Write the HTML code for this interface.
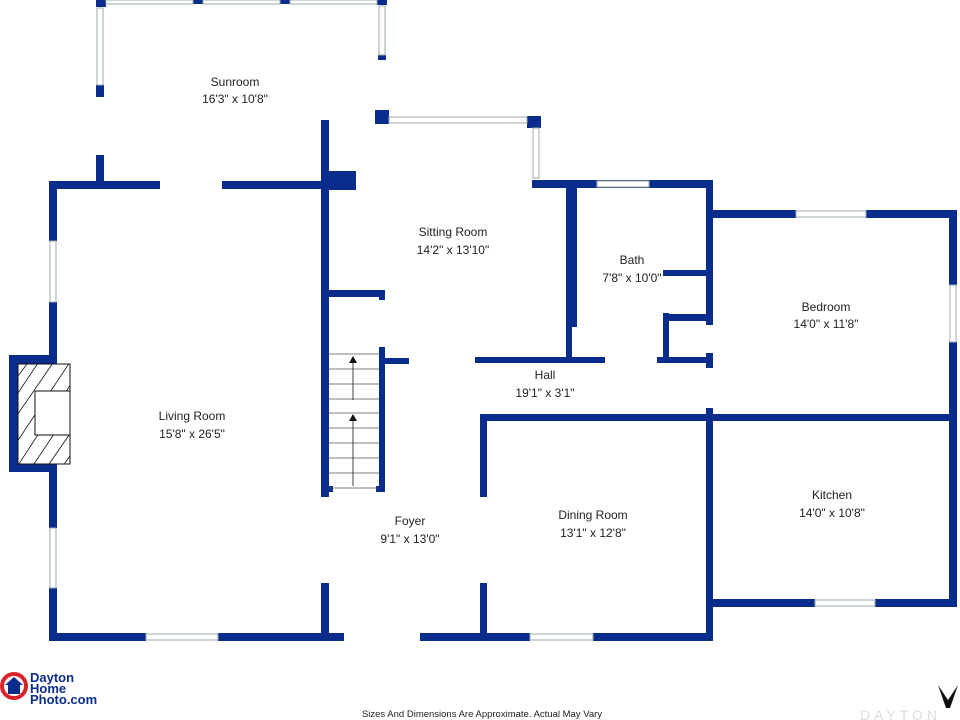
<!DOCTYPE html>
<html><head><meta charset="utf-8"><style>
html,body{margin:0;padding:0;background:#fff;}
svg{display:block;}
text{font-family:"Liberation Sans",sans-serif;fill:#222;}
</style></head><body>
<svg width="960" height="720" viewBox="0 0 960 720" xmlns="http://www.w3.org/2000/svg">
<g fill="#0a2c8c">
<rect x="96" y="0" width="10" height="7"/>
<rect x="96" y="85" width="8" height="12"/>
<rect x="96" y="155" width="8" height="30"/>
<rect x="193" y="0" width="10" height="4"/>
<rect x="280" y="0" width="10" height="4"/>
<rect x="377" y="0" width="10" height="5"/>
<rect x="378" y="55" width="8" height="5"/>
<rect x="375" y="110" width="14" height="14"/>
<rect x="49" y="181" width="111" height="8"/>
<rect x="222" y="181" width="100" height="8"/>
<rect x="322" y="171" width="34" height="19"/>
<rect x="49" y="181" width="8" height="60"/>
<rect x="49" y="302" width="8" height="53"/>
<rect x="9" y="355" width="48" height="9"/>
<rect x="9" y="355" width="9" height="117"/>
<rect x="9" y="463" width="48" height="9"/>
<rect x="49" y="463" width="8" height="65"/>
<rect x="49" y="588" width="8" height="53"/>
<rect x="49" y="633" width="97" height="8"/>
<rect x="218" y="633" width="126" height="8"/>
<rect x="321" y="120" width="8" height="377"/>
<rect x="321" y="583" width="8" height="58"/>
<rect x="527" y="116" width="14" height="12"/>
<rect x="532" y="180" width="181" height="8"/>
<rect x="566" y="188" width="11" height="139"/>
<rect x="566" y="188" width="6" height="172"/>
<rect x="329" y="290" width="56" height="7"/>
<rect x="379" y="290" width="6" height="10"/>
<rect x="379" y="347" width="6" height="145"/>
<rect x="329" y="486" width="4" height="6"/>
<rect x="376" y="486" width="9" height="6"/>
<rect x="379" y="358" width="30" height="6"/>
<rect x="475" y="357" width="130" height="6"/>
<rect x="657" y="357" width="56" height="6"/>
<rect x="706" y="180" width="7" height="145"/>
<rect x="706" y="353" width="7" height="15"/>
<rect x="663" y="270" width="43" height="6"/>
<rect x="663" y="314" width="43" height="7"/>
<rect x="663" y="313" width="6" height="50"/>
<rect x="706" y="210" width="90" height="8"/>
<rect x="866" y="210" width="91" height="8"/>
<rect x="949" y="210" width="8" height="75"/>
<rect x="949" y="342" width="8" height="265"/>
<rect x="480" y="414" width="477" height="7"/>
<rect x="706" y="408" width="7" height="233"/>
<rect x="480" y="414" width="7" height="83"/>
<rect x="480" y="583" width="7" height="58"/>
<rect x="420" y="633" width="110" height="8"/>
<rect x="593" y="633" width="120" height="8"/>
<rect x="713" y="599" width="102" height="8"/>
<rect x="875" y="599" width="82" height="8"/>
</g>
<g fill="#fff" stroke="#9aa" stroke-width="1">
<rect x="97" y="8" width="6" height="77"/>
<rect x="106" y="0" width="87" height="4"/>
<rect x="203" y="0" width="77" height="4"/>
<rect x="290" y="0" width="87" height="4"/>
<rect x="379" y="6" width="6" height="49"/>
<rect x="389" y="117" width="138" height="6"/>
<rect x="533" y="128" width="6" height="50"/>
<rect x="50" y="241" width="6" height="61"/>
<rect x="50" y="528" width="6" height="60"/>
<rect x="146" y="634" width="72" height="6"/>
<rect x="597" y="181" width="52" height="6"/>
<rect x="796" y="211" width="70" height="6"/>
<rect x="950" y="285" width="6" height="57"/>
<rect x="530" y="634" width="63" height="6"/>
<rect x="815" y="600" width="60" height="6"/>
</g>
<defs><clipPath id="fp"><rect x="18" y="364" width="52" height="100"/></clipPath></defs>
<rect x="18" y="364" width="52" height="100" fill="#fff" stroke="#111" stroke-width="1"/>
<g clip-path="url(#fp)" stroke="#111" stroke-width="0.8">
<line x1="0" y1="420" x2="40" y2="360"/><line x1="0" y1="440" x2="55" y2="360"/>
<line x1="5" y1="460" x2="70" y2="362"/><line x1="15" y1="470" x2="80" y2="370"/>
<line x1="30" y1="470" x2="90" y2="380"/><line x1="45" y1="470" x2="100" y2="390"/>
<line x1="60" y1="470" x2="110" y2="400"/><line x1="0" y1="400" x2="30" y2="360"/>
</g>
<rect x="35" y="391" width="35" height="44" fill="#fff" stroke="#111" stroke-width="1"/>
<g stroke="#555" stroke-width="0.8">
<line x1="329" y1="354" x2="379" y2="354"/><line x1="329" y1="369" x2="379" y2="369"/>
<line x1="329" y1="384" x2="379" y2="384"/><line x1="329" y1="399" x2="379" y2="399"/>
<line x1="329" y1="413" x2="379" y2="413"/><line x1="329" y1="428" x2="379" y2="428"/>
<line x1="329" y1="443" x2="379" y2="443"/><line x1="329" y1="458" x2="379" y2="458"/>
<line x1="329" y1="473" x2="379" y2="473"/><line x1="329" y1="488" x2="379" y2="488"/>
<line x1="353" y1="360" x2="353" y2="400" stroke="#111"/><line x1="353" y1="418" x2="353" y2="486" stroke="#111"/>
</g>
<polygon points="353,356 349,363 357,363" fill="#111"/>
<polygon points="353,414 349,421 357,421" fill="#111"/>
<g font-size="12" text-anchor="middle">
<text x="235" y="86">Sunroom</text><text x="235" y="103">16'3" x 10'8"</text>
<text x="453" y="236">Sitting Room</text><text x="453" y="254">14'2" x 13'10"</text>
<text x="632" y="264">Bath</text><text x="632" y="282">7'8" x 10'0"</text>
<text x="826" y="311">Bedroom</text><text x="826" y="328">14'0" x 11'8"</text>
<text x="545" y="379">Hall</text><text x="545" y="397">19'1" x 3'1"</text>
<text x="192" y="420">Living Room</text><text x="192" y="438">15'8" x 26'5"</text>
<text x="410" y="525">Foyer</text><text x="410" y="543">9'1" x 13'0"</text>
<text x="593" y="519">Dining Room</text><text x="593" y="537">13'1" x 12'8"</text>
<text x="832" y="499">Kitchen</text><text x="832" y="517">14'0" x 10'8"</text>
</g>
<text x="482" y="717" font-size="9.5" text-anchor="middle">Sizes And Dimensions Are Approximate. Actual May Vary</text>
<circle cx="14" cy="686" r="12" fill="none" stroke="#d8232a" stroke-width="4"/>
<polygon points="14,677 5,685 8,685 8,694 20,694 20,685 23,685" fill="#0a2c8c"/>
<g font-size="13" font-weight="bold">
<text x="30" y="682" style="fill:#0a2c8c">Dayton</text>
<text x="30" y="693" style="fill:#0a2c8c">Home</text>
<text x="30" y="704" style="fill:#0a2c8c">Photo.com</text>
</g>
<text x="860" y="720" font-size="14" style="fill:#ddd" letter-spacing="4">DAYTON</text>
<polygon points="938,685 948,700 958,685 950,708 946,708" fill="#111"/>
</svg>
</body></html>
